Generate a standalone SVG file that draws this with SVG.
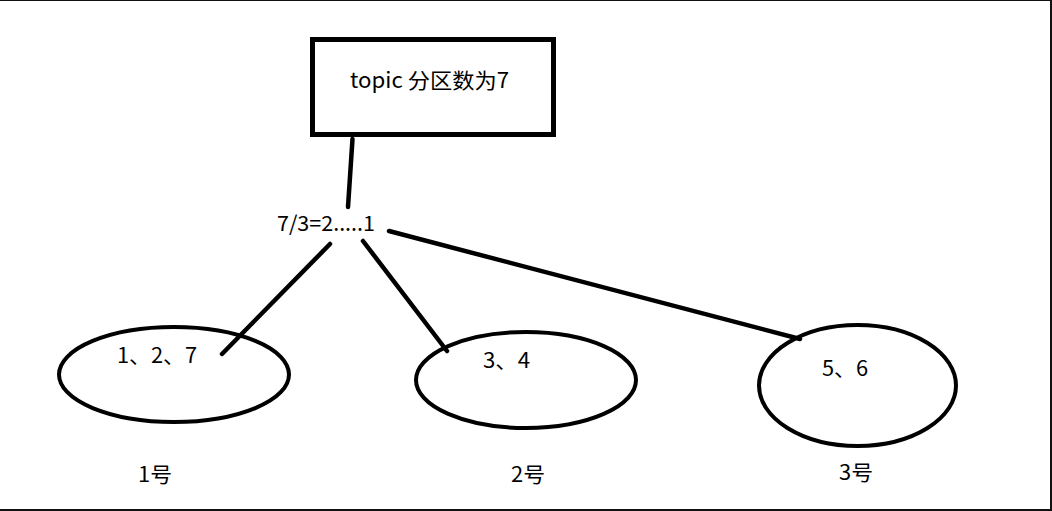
<svg xmlns="http://www.w3.org/2000/svg" width="1052" height="511" viewBox="0 0 1052 511">
<style>
.t{font-family:"Noto Sans CJK SC","Noto Sans",sans-serif;font-size:21px;fill:#000}
.n{fill:none;stroke:#000;stroke-width:4}
.c{stroke:#000;stroke-width:4.5;stroke-linecap:round}
</style>
<rect x="0" y="0" width="1052" height="511" fill="#fff"/>
<g id="frame" fill="#111">
<rect x="0" y="0" width="1052" height="1"/>
<rect x="1050" y="0" width="2" height="511"/>
<rect x="0" y="509" width="1052" height="2"/>
</g>
<g id="connectors">
<line class="c" x1="352.5" y1="139" x2="348" y2="207"/>
<line class="c" x1="330" y1="244" x2="222" y2="354"/>
<line class="c" x1="363" y1="241" x2="447" y2="351"/>
<line class="c" x1="389" y1="231" x2="800" y2="339"/>
</g>
<g id="topic">
<rect x="312.5" y="39.5" width="241" height="95" fill="none" stroke="#000" stroke-width="5"/>
<text class="t" x="350" y="88" textLength="159" lengthAdjust="spacingAndGlyphs">topic 分区数为7</text>
</g>
<g id="formula">
<text class="t" x="277" y="231" textLength="98" lengthAdjust="spacingAndGlyphs">7/3=2.....1</text>
</g>
<g id="node1">
<ellipse class="n" cx="174" cy="374.5" rx="115" ry="47.5"/>
<text class="t" x="117" y="363" textLength="80" lengthAdjust="spacingAndGlyphs">1、2、7</text>
</g>
<g id="node2">
<ellipse class="n" cx="526" cy="380" rx="110" ry="48"/>
<text class="t" x="483" y="368" textLength="47" lengthAdjust="spacingAndGlyphs">3、4</text>
</g>
<g id="node3">
<ellipse class="n" cx="857.5" cy="385.5" rx="98.5" ry="60.5"/>
<text class="t" x="822" y="376" textLength="46" lengthAdjust="spacingAndGlyphs">5、6</text>
</g>
<g id="label1"><text class="t" x="138" y="482" textLength="34" lengthAdjust="spacingAndGlyphs">1号</text></g>
<g id="label2"><text class="t" x="511" y="482" textLength="34" lengthAdjust="spacingAndGlyphs">2号</text></g>
<g id="label3"><text class="t" x="839" y="480" textLength="34" lengthAdjust="spacingAndGlyphs">3号</text></g>
</svg>
